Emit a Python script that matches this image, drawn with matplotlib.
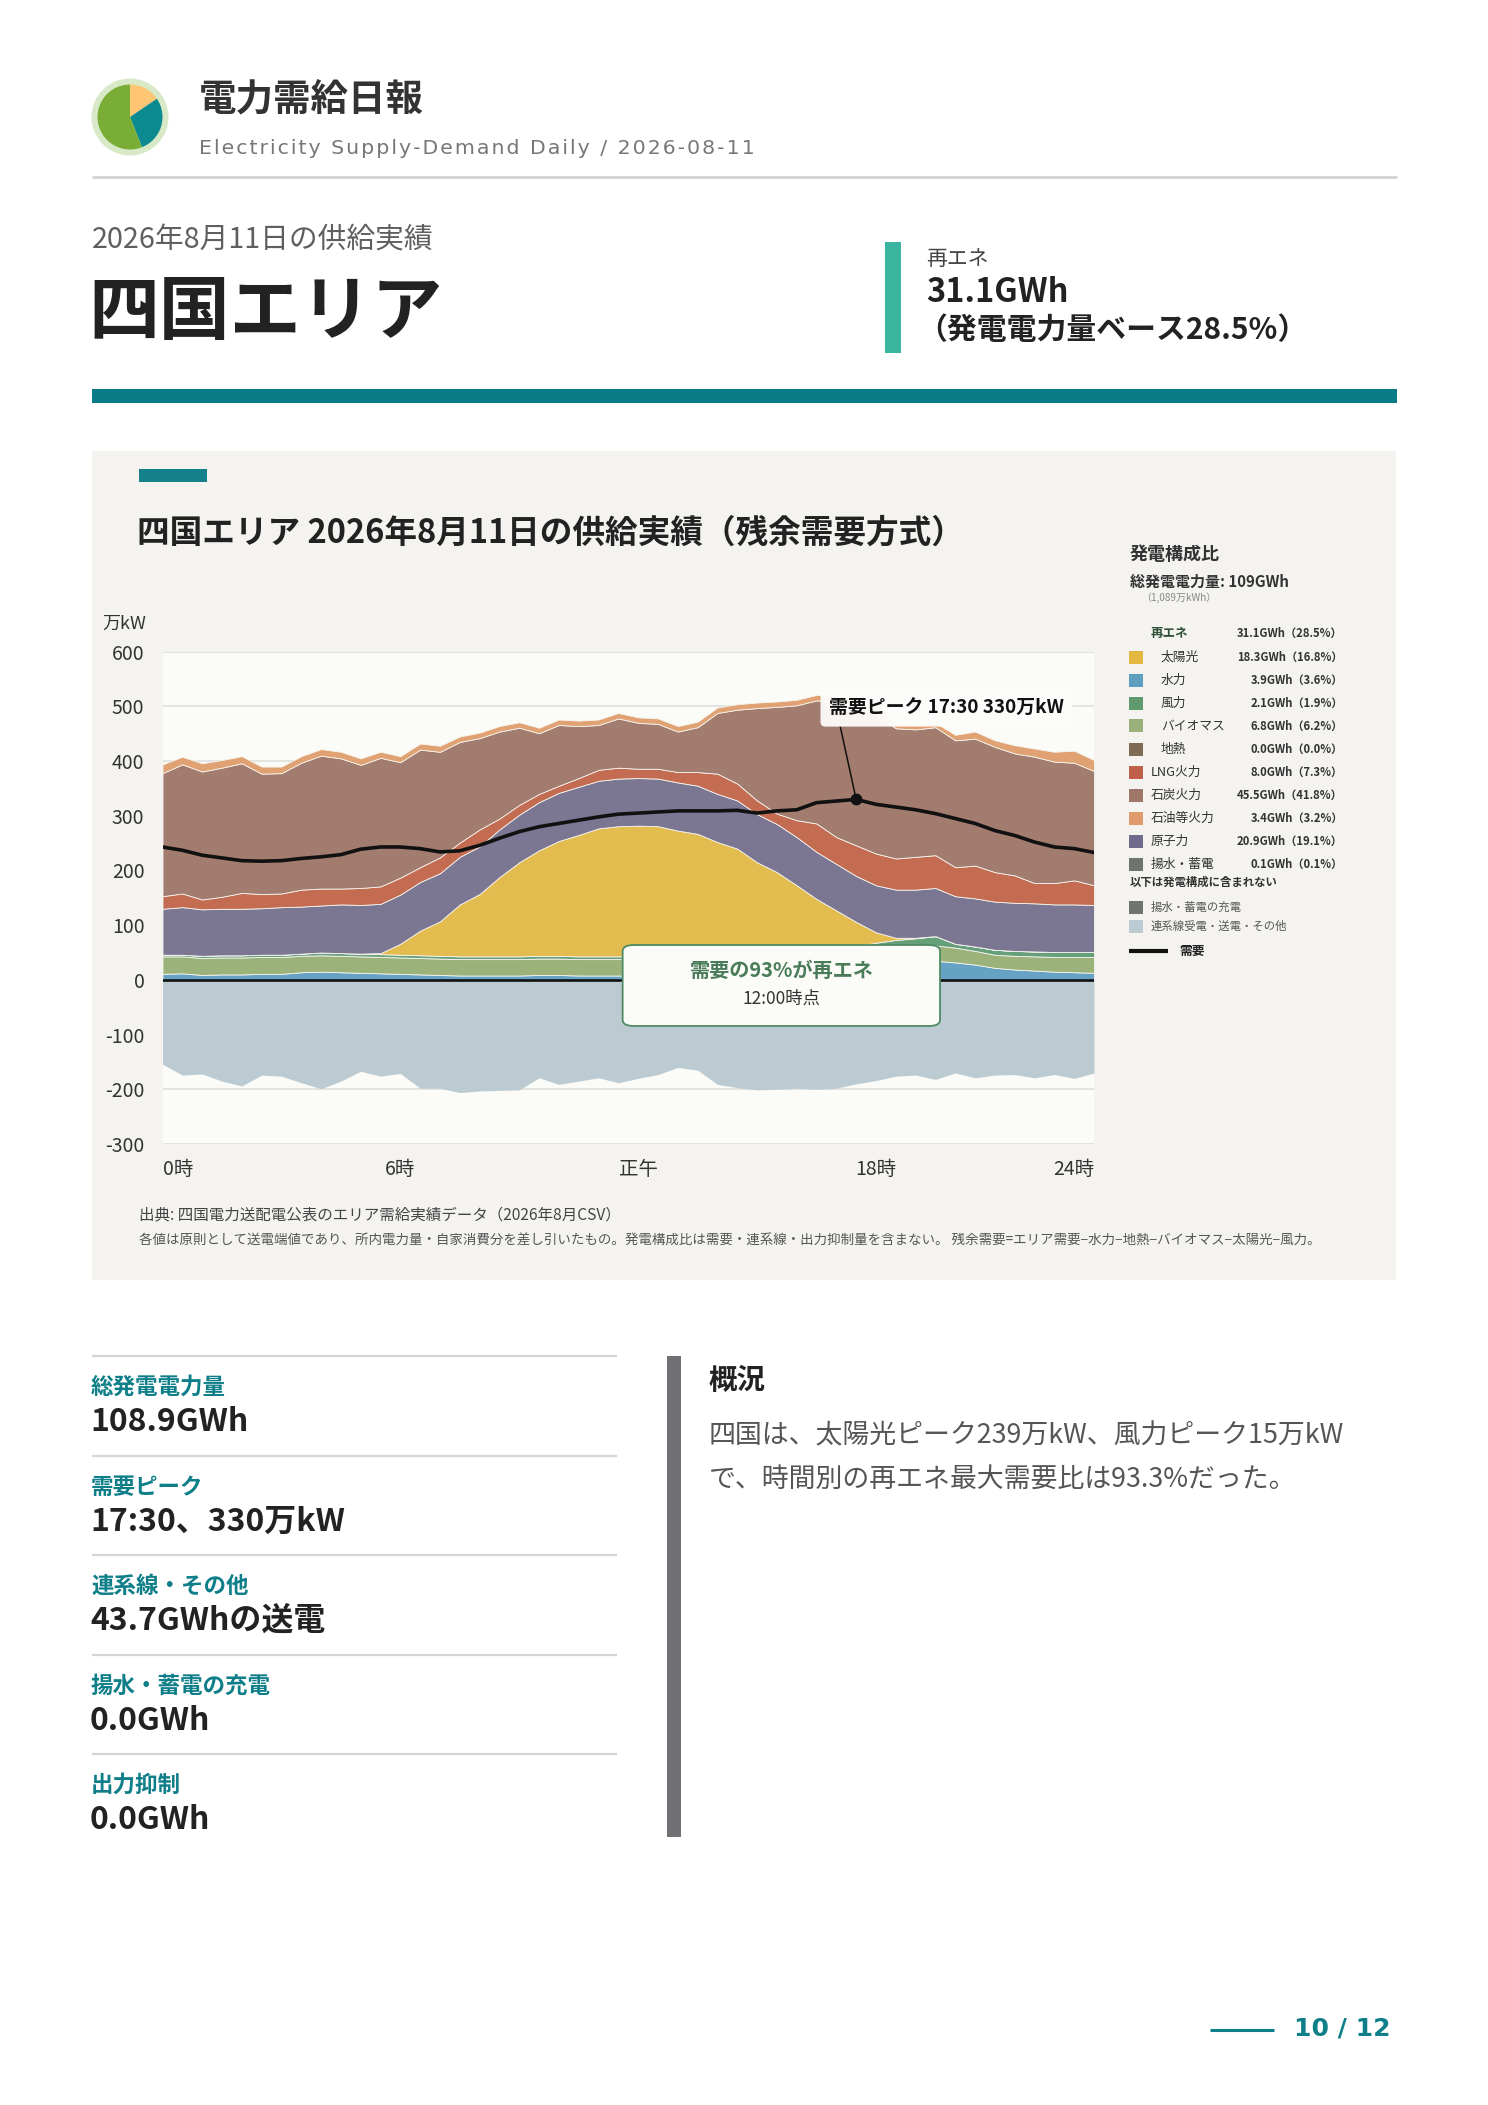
"""Shikoku area daily supply-demand report page (residual demand stack chart)."""
import numpy as np
import matplotlib

matplotlib.use("Agg")
import matplotlib.pyplot as plt
from matplotlib.patches import Rectangle, FancyBboxPatch, Circle
from matplotlib.lines import Line2D

plt.rcParams["font.family"] = ["Noto Sans CJK JP", "DejaVu Sans"]
plt.rcParams["axes.unicode_minus"] = False

# ---- data (万kW, 30-minute steps 0:00 .. 23:30) ----
hydro = [11, 12, 9, 10, 10, 11, 11, 14, 15, 14, 13, 12, 11, 10, 9, 8, 8, 8, 8, 9,
         9, 8, 8, 8, 8, 8, 8, 9, 9, 10, 11, 12, 13, 15, 18, 22, 26, 30, 33, 35,
         32, 28, 22, 19, 17, 15, 14, 13]
biomass = [32, 31, 31, 31, 31, 31, 31, 30, 30, 30, 30, 30, 30, 30, 30, 30, 30, 30, 30, 30,
           30, 30, 30, 30, 30, 30, 30, 30, 30, 30, 30, 29, 29, 29, 28, 28, 28, 28, 28, 28,
           27, 25, 24, 25, 26, 27, 28, 29]
wind = [3, 3, 4, 4, 4, 4, 4, 4, 5, 5, 5, 5, 5, 5, 5, 5, 5, 5, 5, 5,
        5, 5, 5, 5, 5, 5, 5, 5, 5, 5, 6, 6, 7, 8, 10, 12, 14, 15, 15, 17,
        7, 8, 9, 9, 9, 9, 9, 9]
solar = [0, 0, 0, 0, 0, 0, 0, 0, 0, 0, 0, 2, 20, 45, 63, 95, 114, 145, 172, 193,
         210, 222, 234, 238, 239, 238, 230, 223, 208, 195, 168, 150, 124, 96, 71, 44, 19, 4, 1, 0,
         0, 0, 0, 0, 0, 0, 0, 0]
nuclear = [84, 87, 85, 85, 85, 85, 87, 86, 86, 89, 89, 90, 90, 89, 88, 87, 87, 87, 87, 88,
           88, 88, 87, 87, 87, 87, 88, 88, 88, 88, 88, 88, 88, 86, 85, 84, 86, 88, 88, 88,
           87, 88, 88, 88, 88, 87, 87, 86]
lng = [23, 25, 18, 22, 29, 26, 25, 31, 31, 29, 31, 32, 31, 27, 29, 26, 31, 20, 18, 15,
       13, 16, 20, 20, 17, 18, 19, 25, 37, 31, 25, 19, 31, 52, 49, 56, 58, 57, 60, 60,
       53, 60, 54, 50, 37, 39, 44, 36]
coal = [225, 236, 234, 236, 237, 220, 220, 232, 243, 238, 225, 235, 211, 215, 193, 184, 167, 159, 141, 111,
        111, 95, 82, 90, 84, 82, 74, 82, 111, 135, 169, 195, 210, 225, 247, 256, 254, 238, 233, 234,
        232, 232, 229, 223, 231, 222, 215, 209]
oil = [16, 14, 15, 14, 13, 13, 12, 12, 12, 12, 12, 11, 11, 11, 11, 10, 10, 10, 10, 10,
       10, 10, 10, 10, 10, 10, 10, 10, 10, 10, 10, 10, 10, 10, 10, 10, 10, 9, 8, 8,
       10, 13, 12, 15, 15, 18, 22, 20]
interconnect = [-154, -174, -172, -185, -194, -174, -176, -188, -199, -185, -167, -176, -171, -198, -198, -206,
                -203, -202, -201, -179, -191, -185, -179, -188, -180, -173, -160, -165, -191, -197, -201, -200,
                -198, -200, -198, -190, -184, -176, -174, -182, -170, -179, -174, -173, -179, -173, -180, -170]
demand = [243, 237, 228, 223, 218, 217, 218, 222, 225, 229, 239, 243, 243, 240, 234, 236, 246, 259, 271, 280,
          286, 292, 298, 303, 305, 307, 309, 309, 309, 310, 305, 309, 311, 324, 327, 330, 321, 316, 311, 304,
          295, 286, 273, 264, 252, 243, 240, 233]

tick_pos = [0, 12, 24, 36, 47]
tick_labels = ["0時", "6時", "正午", "18時", "24時"]

layer_colors = ["#66a2c4", "#9bb37b", "#66a07a", "#e3bc50", "#7b7691", "#c36c52", "#a27c6e", "#e0a273"]
inter_color = "#bccbd1"

mix_names = ["太陽光", "水力", "風力", "バイオマス", "地熱", "LNG火力", "石炭火力", "石油等火力", "原子力", "揚水・蓄電"]
mix_values = ["18.3GWh（16.8%）", "3.9GWh（3.6%）", "2.1GWh（1.9%）", "6.8GWh（6.2%）", "0.0GWh（0.0%）",
              "8.0GWh（7.3%）", "45.5GWh（41.8%）", "3.4GWh（3.2%）", "20.9GWh（19.1%）", "0.1GWh（0.1%）"]
mix_colors = ["#e2b843", "#5f9ec0", "#5e9a6e", "#99b07a", "#7f6a55", "#c0604a", "#a07668", "#e09a6c",
              "#706a8c", "#6f756e"]
mix_indent = [True, True, True, True, True, False, False, False, False, False]
renew_total = "31.1GWh（28.5%）"

stat_labels = ["総発電電力量", "需要ピーク", "連系線・その他", "揚水・蓄電の充電", "出力抑制"]
stat_values = ["108.9GWh", "17:30、330万kW", "43.7GWhの送電", "0.0GWh", "0.0GWh"]

logo_shares = [15.5, 28.5, 56.0]
logo_colors = ["#fdc574", "#0b8a8f", "#7aad35"]

TEAL = "#0e7f88"
W, H = 1488, 2105


def fx(x):
    return x / W


def fy(y):
    return 1 - y / H


fig = plt.figure(figsize=(W / 100, H / 100), dpi=100)
fig.patch.set_facecolor("white")


def ftext(x, y, s, **kw):
    kw.setdefault("va", "center")
    fig.text(fx(x), fy(y), s, **kw)


def frect(x0, y0, x1, y1, color, z=1):
    fig.patches.append(Rectangle((fx(x0), fy(y1)), (x1 - x0) / W, (y1 - y0) / H,
                                 transform=fig.transFigure, color=color, lw=0, zorder=z))


def fline(x0, x1, y0, y1, color, lw):
    fig.lines.append(Line2D([fx(x0), fx(x1)], [fy(y0), fy(y1)], transform=fig.transFigure,
                            color=color, lw=lw, solid_capstyle="butt"))


# ---- header ----
lax = fig.add_axes([fx(90), fy(157), 80 / W, 80 / H])
lax.add_patch(Circle((0, 0), 38.5, color="#d8e9c8", lw=0))
lax.pie(logo_shares, colors=logo_colors, radius=32.5, startangle=90, counterclock=False,
        wedgeprops=dict(lw=0), center=(0, 0), frame=True)
lax.set_xlim(-40, 40)
lax.set_ylim(-40, 40)
lax.set_aspect("equal")
lax.axis("off")

ftext(199, 99, "電力需給日報", fontsize=27, fontweight="bold", color="#333333")
sub = "\u200a".join("Electricity Supply-Demand Daily / 2026-08-11")
ftext(199, 148, sub, fontsize=14.75, color="#777777", family="DejaVu Sans")
fline(92, 1397, 177, 177, "#d3d3d3", 2)

ftext(92, 241, "2026年8月11日の供給実績", fontsize=20.7, color="#5f5f5f")
ftext(88, 313, "四国エリア", fontsize=51, fontweight="bold", color="#222222")
frect(885, 242, 901, 353, "#3ab5a0")
ftext(926, 259, "再エネ", fontsize=15, color="#444444")
ftext(926, 293, "31.1GWh", fontsize=23.5, fontweight="bold", color="#222222")
ftext(917, 330, "（発電電力量ベース28.5%）", fontsize=21.5, fontweight="bold", color="#222222")
frect(92, 389, 1397, 403, "#077c86")

# ---- chart panel ----
frect(92, 451, 1396, 1280, "#f4f3f0", z=-2)
frect(139, 469, 207, 482, "#13808a")
ftext(137, 533, "四国エリア 2026年8月11日の供給実績（残余需要方式）", fontsize=23.5, fontweight="bold",
      color="#222222")
ftext(102, 624, "万kW", fontsize=13, color="#333333")

ax = fig.add_axes([fx(162.5), fy(1144), 931.5 / W, 492.3 / H])
ax.set_facecolor("#fbfbf8")
x = np.arange(len(demand))
ax.stackplot(x, hydro, biomass, wind, solar, nuclear, lng, coal, oil, colors=layer_colors,
             edgecolor="#f6f4ee", linewidth=0.6, zorder=2)
ax.fill_between(x, interconnect, 0, color=inter_color, lw=0, zorder=2)
ax.axhline(0, color="#111111", lw=1.9, zorder=3)
ax.plot(x, demand, color="#111111", lw=2.6, zorder=4, solid_capstyle="round")

ax.set_xlim(0, len(demand) - 1)
ax.set_ylim(-300, 600)
ax.set_yticks(range(-300, 601, 100))
ax.tick_params(axis="y", length=0, pad=13, labelsize=14, labelcolor="#333333")
ax.set_xticks(tick_pos)
ax.set_xticklabels(tick_labels)
ax.tick_params(axis="x", length=0, pad=11, labelsize=14, labelcolor="#333333")
xt = ax.get_xticklabels()
xt[0].set_ha("left")
xt[-1].set_ha("right")
ax.grid(axis="y", color="#dcdcdc", lw=1.1)
ax.set_axisbelow(True)
for s in ax.spines.values():
    s.set_visible(False)

# demand peak annotation
peak_idx = int(np.argmax(demand))
ax.plot(peak_idx, demand[peak_idx], "o", color="#111111", ms=7.5, zorder=6)
ax.annotate("需要ピーク 17:30 330万kW", xy=(peak_idx, demand[peak_idx]), xytext=(33.63, 496),
            textcoords="data", ha="left", va="center", fontsize=13.6, fontweight="bold", color="#111111",
            bbox=dict(boxstyle="round,pad=0.45,rounding_size=0.25", fc="#fdfdfb", ec="none", alpha=0.95),
            arrowprops=dict(arrowstyle="-", color="#111111", lw=1.1, shrinkA=0, shrinkB=0,
                            relpos=(0.04, 0.0)), zorder=7)

# renewable share box
box = FancyBboxPatch((0.494, 0.2397), 0.8347 - 0.494, 0.4042 - 0.2397,
                     boxstyle="round,pad=0,rounding_size=0.012", transform=ax.transAxes,
                     fc="#fbfbf8", ec="#4e8a63", lw=1.3, zorder=8)
ax.add_patch(box)
ax.text(0.6645, 0.3534, "需要の93%が再エネ", transform=ax.transAxes, ha="center", va="center",
        fontsize=14.5, fontweight="bold", color="#4a7c59", zorder=9)
ax.text(0.6645, 0.296, "12:00時点", transform=ax.transAxes, ha="center", va="center",
        fontsize=12.5, color="#333333", zorder=9)

# ---- generation mix legend ----
ftext(1130, 555, "発電構成比", fontsize=13, fontweight="bold", color="#333333")
ftext(1130, 582, "総発電電力量: 109GWh", fontsize=10.8, fontweight="bold", color="#333333")
ftext(1141, 598, "（1,089万kWh）", fontsize=7.2, color="#888888")
ftext(1151, 633, "再エネ", fontsize=9, fontweight="bold", color="#2f4f36")
ftext(1343, 633, renew_total, fontsize=8.1, fontweight="bold", color="#333333", ha="right")
row_y = 657
for name, val, col, ind in zip(mix_names, mix_values, mix_colors, mix_indent):
    frect(1129, row_y - 6.5, 1143, row_y + 6.5, col)
    ftext(1161 if ind else 1151, row_y, name, fontsize=9.2, color="#333333")
    ftext(1343, row_y, val, fontsize=8.1, fontweight="bold", color="#333333", ha="right")
    row_y += 23
ftext(1130, 882, "以下は発電構成に含まれない", fontsize=8.2, fontweight="bold", color="#333333")
frect(1129, 900.5, 1143, 913.5, "#6f756e")
ftext(1151, 907, "揚水・蓄電の充電", fontsize=8.2, color="#555555")
frect(1129, 919.5, 1143, 932.5, inter_color)
ftext(1151, 926, "連系線受電・送電・その他", fontsize=8.2, color="#555555")
fline(1129, 1168, 951, 951, "#111111", 3)
ftext(1179, 951, "需要", fontsize=9.2, fontweight="bold", color="#222222")

# ---- footnotes ----
ftext(139, 1215, "出典: 四国電力送配電公表のエリア需給実績データ（2026年8月CSV）", fontsize=11.2, color="#444444")
ftext(139, 1241, "各値は原則として送電端値であり、所内電力量・自家消費分を差し引いたもの。"
      "発電構成比は需要・連系線・出力抑制量を含まない。 残余需要=エリア需要−水力−地熱−バイオマス−太陽光−風力。",
      fontsize=9.7, color="#555555")

# ---- stats block ----
line_y = [1356, 1456, 1555, 1655, 1754]
for ly, lab, val in zip(line_y, stat_labels, stat_values):
    fline(92, 617, ly, ly, "#d5d5d5", 1.6)
    ftext(91, ly + 31, lab, fontsize=16.2, fontweight="bold", color=TEAL)
    ftext(90, ly + 66, val, fontsize=23, fontweight="bold", color="#222222")

frect(667, 1356, 681, 1837, "#707075")
ftext(709, 1381, "概況", fontsize=20.5, fontweight="bold", color="#222222")
ftext(709, 1436, "四国は、太陽光ピーク239万kW、風力ピーク15万kW", fontsize=19.4, color="#555555")
ftext(709, 1479, "で、時間別の再エネ最大需要比は93.3%だった。", fontsize=19.4, color="#555555")

# ---- footer ----
fline(1210, 1274, 2030, 2030, TEAL, 2.2)
ftext(1294, 2029, "10 / 12", fontsize=18, fontweight="bold", color=TEAL, family="DejaVu Sans")

fig.savefig("out.png", dpi=100, facecolor="white")
plt.close(fig)
